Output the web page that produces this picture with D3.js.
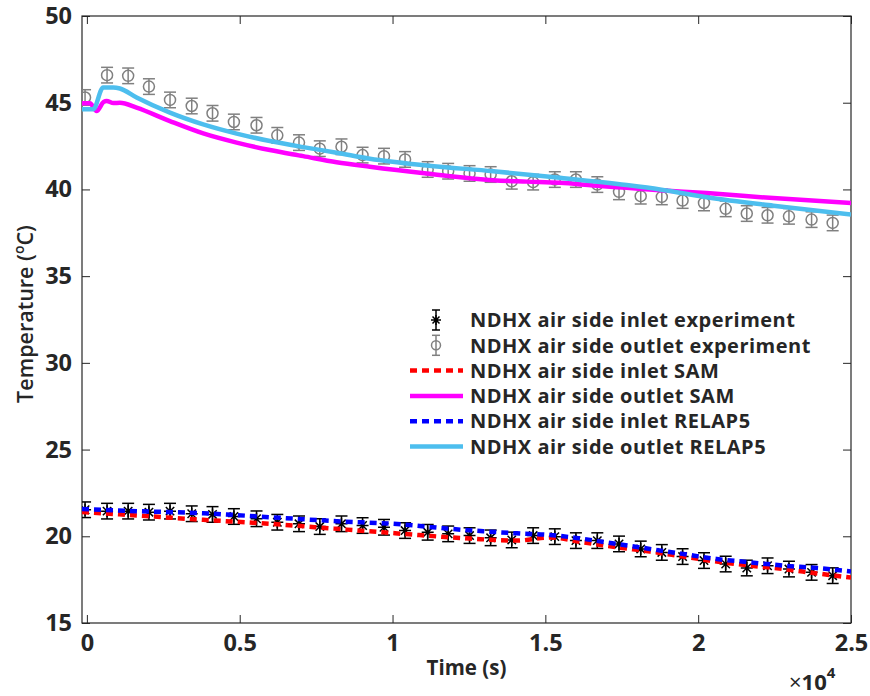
<!DOCTYPE html>
<html>
<head>
<meta charset="utf-8">
<script src="https://cdn.jsdelivr.net/npm/d3@7"></script>
<style>
  body { margin: 0; background: #fff; }
  svg { display: block; }
  text { font-family: "Open Sans", "Liberation Sans", sans-serif; fill: #262626; }
</style>
</head>
<body>
<svg id="chart" width="870" height="696"></svg>
<script>
// Measurement times (s) for the experimental points
const expTime = [-60, 660, 1350, 2030, 2720, 3430, 4110, 4810, 5550, 6230, 6940, 7620,
  8330, 9020, 9720, 10410, 11150, 11820, 12520, 13210, 13900, 14600, 15310, 16000,
  16700, 17410, 18120, 18810, 19490, 20190, 20900, 21590, 22270, 22970, 23710, 24400];

// NDHX air side inlet experiment (deg C)
const inletExp = [21.53, 21.45, 21.45, 21.39, 21.45, 21.30, 21.26, 21.14, 21.01, 20.81, 20.72, 20.56,
  20.72, 20.62, 20.52, 20.33, 20.23, 20.14, 20.04, 19.91, 19.79, 20.04, 19.98, 19.75,
  19.75, 19.56, 19.27, 19.07, 18.83, 18.60, 18.40, 18.17, 18.30, 18.11, 17.92, 17.73];

// NDHX air side outlet experiment (deg C)
const outletExp = [45.30, 46.59, 46.55, 45.93, 45.16, 44.81, 44.39, 43.89, 43.70, 43.12, 42.70, 42.35,
  42.46, 41.98, 41.92, 41.73, 41.15, 41.05, 40.92, 40.86, 40.47, 40.42, 40.57, 40.57,
  40.28, 39.86, 39.61, 39.57, 39.36, 39.22, 38.88, 38.61, 38.51, 38.45, 38.26, 38.07];

// Measurement uncertainty (half-width of error bars, deg C)
const inletErr = 0.45;
const outletErr = 0.45;

// SAM simulation
const samInletT = [-160, 1626, 3806, 5988, 8171, 10350, 11878, 12533, 14061, 15151, 16240, 17333,
  18423, 19512, 20605, 21695, 22785, 23878, 25000];
const samInletV = [21.40, 21.20, 20.95, 20.72, 20.43, 20.14, 19.94, 19.87, 19.75, 19.93, 19.65, 19.37,
  19.12, 18.83, 18.54, 18.31, 18.11, 17.86, 17.62];
const samOutletT = [-160, 100, 317, 550, 645, 870, 1080, 1626, 2716, 3806, 4899, 5988, 7078, 8171,
  9260, 11116, 13295, 14388, 15478, 16567, 17660, 18750, 20278, 22457, 25000];
const samOutletV = [44.97, 44.97, 44.52, 45.05, 45.10, 44.98, 45.00, 44.72, 43.94, 43.23, 42.70, 42.27,
  41.92, 41.57, 41.31, 40.92, 40.53, 40.45, 40.38, 40.23, 40.09, 39.95, 39.79, 39.50, 39.22];

// RELAP5 simulation
const relapInletT = [-160, 1626, 3806, 5988, 8171, 10350, 11878, 12970, 14061, 15151, 16240, 17333,
  18423, 19512, 20605, 21695, 22785, 23878, 25000];
const relapInletV = [21.58, 21.45, 21.33, 21.10, 20.87, 20.68, 20.43, 20.29, 20.17, 20.08, 19.85, 19.56,
  19.27, 18.98, 18.69, 18.50, 18.31, 18.17, 17.97];
const relapOutletT = [-160, 206, 533, 861, 1080, 1626, 2716, 3806, 4899, 5988, 7078, 8171, 9260,
  11116, 13295, 15478, 17660, 18750, 20278, 22457, 25000];
const relapOutletV = [44.62, 44.62, 45.88, 45.88, 45.82, 45.30, 44.43, 43.75, 43.22, 42.79, 42.44, 42.12,
  41.77, 41.38, 41.05, 40.67, 40.25, 40.00, 39.55, 39.06, 38.56];

// Axis ticks
const xTickValues = [0, 5000, 10000, 15000, 20000, 25000];
const xTickLabels = ["0", "0.5", "1", "1.5", "2", "2.5"];
const yTickValues = [15, 20, 25, 30, 35, 40, 45, 50];

// Legend entries
const legendLabels = [
  "NDHX air side inlet experiment",
  "NDHX air side outlet experiment",
  "NDHX air side inlet SAM",
  "NDHX air side outlet SAM",
  "NDHX air side inlet RELAP5",
  "NDHX air side outlet RELAP5"
];

const svg = d3.select("#chart");
const box = { left: 82, top: 16, right: 851, bottom: 623 };
const x = d3.scaleLinear().domain([-160, 25000]).range([box.left, box.right]);
const y = d3.scaleLinear().domain([15, 50]).range([box.bottom, box.top]);

svg.append("defs").append("clipPath").attr("id", "plotClip")
  .append("rect").attr("x", box.left).attr("y", box.top)
  .attr("width", box.right - box.left).attr("height", box.bottom - box.top);

const C = {
  axis: "#262626",
  grey: "#808080",
  red: "#ff0000",
  magenta: "#ff00ff",
  blue: "#0000ff",
  cyan: "#4dbeee"
};

// Axes on all four sides, ticks pointing inward
const tickFont = g => g.selectAll("text")
  .style("font-size", "23.5px").style("font-weight", "700").attr("fill", C.axis);

const gx = svg.append("g").attr("transform", `translate(0,${box.bottom})`)
  .call(d3.axisBottom(x).tickValues(xTickValues).tickFormat((d, i) => xTickLabels[i])
    .tickSize(-8).tickPadding(11));
gx.call(tickFont);
svg.append("g").attr("transform", `translate(0,${box.top})`)
  .call(d3.axisTop(x).tickValues(xTickValues).tickFormat("").tickSize(-8));
const gy = svg.append("g").attr("transform", `translate(${box.left},0)`)
  .call(d3.axisLeft(y).tickValues(yTickValues).tickSize(-8).tickPadding(10));
gy.call(tickFont);
svg.append("g").attr("transform", `translate(${box.right},0)`)
  .call(d3.axisRight(y).tickValues(yTickValues).tickFormat("").tickSize(-8));
svg.selectAll(".domain").remove();
svg.selectAll(".tick line").attr("stroke", C.axis).attr("stroke-width", 1);

// Plot box
svg.append("rect").attr("x", box.left).attr("y", box.top)
  .attr("width", box.right - box.left).attr("height", box.bottom - box.top)
  .attr("fill", "none").attr("stroke", C.axis).attr("stroke-width", 1.2);

const plot = svg.append("g").attr("clip-path", "url(#plotClip)");

// Experimental points with error bars
function errorBars(times, vals, err, color, marker) {
  const g = plot.append("g").attr("stroke", color).attr("fill", "none").attr("stroke-width", 1.5);
  times.forEach((t, i) => {
    const cx = x(t), v = vals[i];
    const y0 = y(v - err), y1 = y(v + err);
    g.append("line").attr("x1", cx).attr("x2", cx).attr("y1", y0).attr("y2", y1);
    g.append("line").attr("x1", cx - 6).attr("x2", cx + 6).attr("y1", y0).attr("y2", y0);
    g.append("line").attr("x1", cx - 6).attr("x2", cx + 6).attr("y1", y1).attr("y2", y1);
    marker(g, cx, y(v));
  });
}
const starMarker = (g, cx, cy, s = 6) => {
  const d = s * 0.7;
  g.append("path").attr("d",
    `M${cx - s},${cy}L${cx + s},${cy}M${cx},${cy - s}L${cx},${cy + s}` +
    `M${cx - d},${cy - d}L${cx + d},${cy + d}M${cx - d},${cy + d}L${cx + d},${cy - d}`);
};
const circleMarker = (g, cx, cy, r = 5.5) => {
  g.append("circle").attr("cx", cx).attr("cy", cy).attr("r", r);
};

errorBars(expTime, inletExp, inletErr, "#000", starMarker);
errorBars(expTime, outletExp, outletErr, C.grey, circleMarker);

// Simulation curves
const lineGen = d3.line().x(d => x(d[0])).y(d => y(d[1])).curve(d3.curveMonotoneX);
function curve(ts, vs, color, width, dash) {
  plot.append("path").datum(ts.map((t, i) => [t, vs[i]]))
    .attr("d", lineGen).attr("fill", "none").attr("stroke", color)
    .attr("stroke-width", width).attr("stroke-dasharray", dash || null)
    .attr("stroke-linejoin", "round");
}
curve(samInletT, samInletV, C.red, 4.5, "7,5");
curve(samOutletT, samOutletV, C.magenta, 4.5);
curve(relapInletT, relapInletV, C.blue, 4.5, "7,5");
curve(relapOutletT, relapOutletV, C.cyan, 4.5);

// Legend
const legend = svg.append("g");
const rowY0 = 320, rowStep = 25.3;
const lx0 = 410, lx1 = 463, lmx = 436;
const legendStyles = [null, null,
  [C.red, "7,5"], [C.magenta, null], [C.blue, "7,5"], [C.cyan, null]];
legendLabels.forEach((label, i) => {
  const ry = rowY0 + i * rowStep;
  const g = legend.append("g");
  if (i === 0 || i === 1) {
    const color = i === 0 ? "#000" : C.grey;
    const s = g.append("g").attr("stroke", color).attr("fill", "none").attr("stroke-width", 1.5);
    s.append("line").attr("x1", lmx).attr("x2", lmx).attr("y1", ry - 10).attr("y2", ry + 10);
    s.append("line").attr("x1", lmx - 4).attr("x2", lmx + 4).attr("y1", ry - 10).attr("y2", ry - 10);
    s.append("line").attr("x1", lmx - 4).attr("x2", lmx + 4).attr("y1", ry + 10).attr("y2", ry + 10);
    if (i === 0) starMarker(s, lmx, ry, 5); else circleMarker(s, lmx, ry, 4.5);
  } else {
    const [color, dash] = legendStyles[i];
    g.append("line").attr("x1", lx0).attr("x2", lx1).attr("y1", ry).attr("y2", ry)
      .attr("stroke", color).attr("stroke-width", 4.5).attr("stroke-dasharray", dash);
  }
  g.append("text").attr("x", 470).attr("y", ry).attr("dy", "0.36em")
    .style("font-size", "20px").style("font-weight", "700").style("letter-spacing", "0.5px")
    .attr("fill", "#000").text(label);
});

// Axis titles
svg.append("text").attr("x", (box.left + box.right) / 2).attr("y", 675)
  .attr("text-anchor", "middle").style("font-size", "20.5px").style("font-weight", "700")
  .text("Time (s)");

const yl = svg.append("text").attr("transform", "translate(33,314) rotate(-90)")
  .attr("text-anchor", "middle").style("font-size", "21.5px").style("font-weight", "600");
yl.append("tspan").text("Temperature (");
yl.append("tspan").attr("dy", -9).style("font-size", "14px").text("o");
yl.append("tspan").attr("dy", 9).text("C)");

// Exponent of the x axis
const ex = svg.append("text").attr("x", 789).attr("y", 690).style("font-size", "22px");
ex.append("tspan").style("font-weight", "400").text("\u00d7");
ex.append("tspan").style("font-weight", "700").text("10");
ex.append("tspan").attr("dy", -12).style("font-size", "15px").style("font-weight", "700").text("4");
</script>
</body>
</html>
